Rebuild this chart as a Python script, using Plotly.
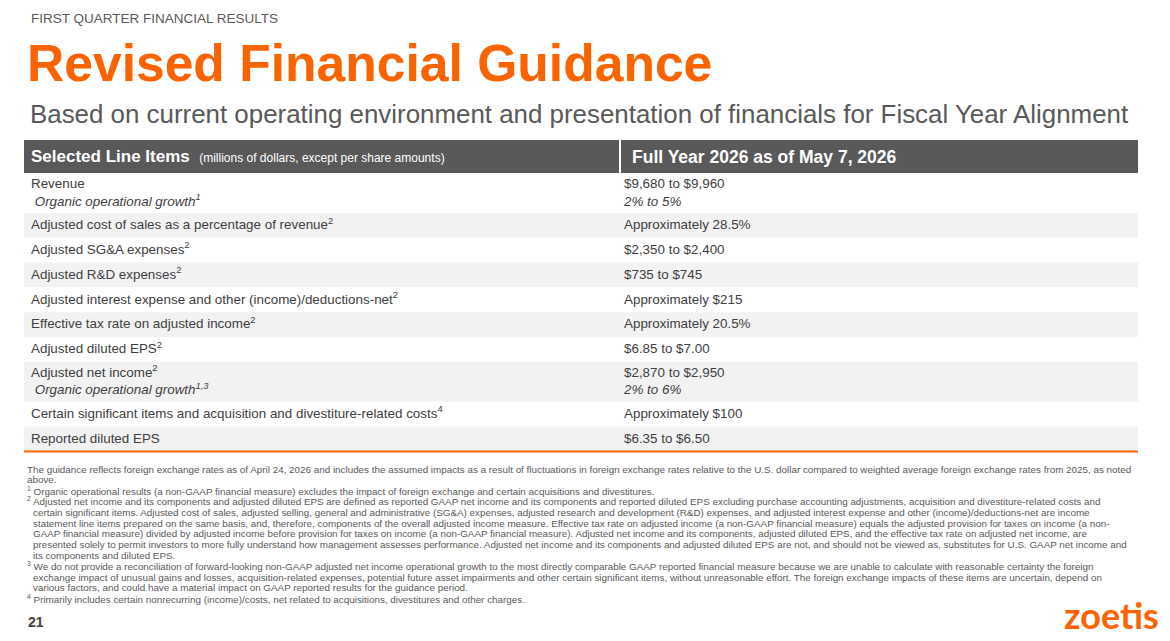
import plotly.graph_objects as go

W, H = 1170, 641
ORANGE = "#FA6400"
DARK = "#404040"
GREY_TXT = "#595959"
BAR = "#595959"
ROW_GREY = "#F2F2F2"
FONT = "Liberation Sans"

kicker = "FIRST QUARTER FINANCIAL RESULTS"
title = "Revised Financial Guidance"
subtitle = "Based on current operating environment and presentation of financials for Fiscal Year Alignment"

header_left = "Selected Line Items"
header_left_note = "(millions of dollars, except per share amounts)"
header_right = "Full Year 2026 as of May 7, 2026"

line_items = [
    "Revenue",
    "Adjusted cost of sales as a percentage of revenue",
    "Adjusted SG&A expenses",
    "Adjusted R&D expenses",
    "Adjusted interest expense and other (income)/deductions-net",
    "Effective tax rate on adjusted income",
    "Adjusted diluted EPS",
    "Adjusted net income",
    "Certain significant items and acquisition and divestiture-related costs",
    "Reported diluted EPS",
]
item_notes = ["", "2", "2", "2", "2", "2", "2", "2", "4", ""]
sub_items = ["Organic operational growth", "", "", "", "", "", "", "Organic operational growth", "", ""]
sub_notes = ["1", "", "", "", "", "", "", "1,3", "", ""]
guidance = [
    "$9,680 to $9,960",
    "Approximately 28.5%",
    "$2,350 to $2,400",
    "$735 to $745",
    "Approximately $215",
    "Approximately 20.5%",
    "$6.85 to $7.00",
    "$2,870 to $2,950",
    "Approximately $100",
    "$6.35 to $6.50",
]
sub_guidance = ["2% to 5%", "", "", "", "", "", "", "2% to 6%", "", ""]

footnote_lines = [
    ("", "The guidance reflects foreign exchange rates as of April 24, 2026 and includes the assumed impacts as a result of fluctuations in foreign exchange rates relative to the U.S. dollar compared to weighted average foreign exchange rates from 2025, as noted", False),
    ("", "above.", False),
    ("1", "Organic operational results (a non-GAAP financial measure) excludes the impact of foreign exchange and certain acquisitions and divestitures.", False),
    ("2", "Adjusted net income and its components and adjusted diluted EPS are defined as reported GAAP net income and its components and reported diluted EPS excluding purchase accounting adjustments, acquisition and divestiture-related costs and", False),
    ("", "certain significant items. Adjusted cost of sales, adjusted selling, general and administrative (SG&A) expenses, adjusted research and development (R&D) expenses, and adjusted interest expense and other (income)/deductions-net are income", True),
    ("", "statement line items prepared on the same basis, and, therefore, components of the overall adjusted income measure. Effective tax rate on adjusted income (a non-GAAP financial measure) equals the adjusted provision for taxes on income (a non-", True),
    ("", "GAAP financial measure) divided by adjusted income before provision for taxes on income (a non-GAAP financial measure). Adjusted net income and its components, adjusted diluted EPS, and the effective tax rate on adjusted net income, are", True),
    ("", "presented solely to permit investors to more fully understand how management assesses performance. Adjusted net income and its components and adjusted diluted EPS are not, and should not be viewed as, substitutes for U.S. GAAP net income and", True),
    ("", "its components and diluted EPS.", True),
    ("3", "We do not provide a reconciliation of forward-looking non-GAAP adjusted net income operational growth to the most directly comparable GAAP reported financial measure because we are unable to calculate with reasonable certainty the foreign", False),
    ("", "exchange impact of unusual gains and losses, acquisition-related expenses, potential future asset impairments and other certain significant items, without unreasonable effort. The foreign exchange impacts of these items are uncertain, depend on", True),
    ("", "various factors, and could have a material impact on GAAP reported results for the guidance period.", True),
    ("4", "Primarily includes certain nonrecurring (income)/costs, net related to acquisitions, divestitures and other charges.", False),
]

page_number = "21"
logo_text = "zoetis"

# ---- layout geometry (pixels; axes are set up 1:1 with the page) ----
TX0, TX1, COL_SPLIT = 24, 1138, 620
HEAD_TOP, HEAD_H = 140, 33
ROW_H1, ROW_H2 = 24.8, 40

left_cells, right_cells, fills, heights = [], [], [], []
for i, (it, n, sub, sn, g, sg) in enumerate(zip(line_items, item_notes, sub_items, sub_notes, guidance, sub_guidance)):
    s = it + (f"<sup>{n}</sup>" if n else "")
    r = g
    if sub:
        s += "<br>\u00a0<i>" + sub + (f"<sup>{sn}</sup>" if sn else "") + "</i>"
    if sg:
        r += "<br><i>" + sg + "</i>"
    left_cells.append(s)
    right_cells.append(r)
    fills.append("white" if i % 2 == 0 else ROW_GREY)
    heights.append(ROW_H2 if (sub or sg) else ROW_H1)

centers = []
top = HEAD_TOP + HEAD_H
for h in heights:
    centers.append(top + h / 2)
    top += h
table_bottom = top

fig = go.Figure()
# header bar
fig.add_trace(go.Bar(orientation="h", y=[HEAD_TOP + HEAD_H / 2], x=[TX1 - TX0], base=[TX0],
                     width=[HEAD_H], marker=dict(color=BAR, line=dict(width=0)),
                     hoverinfo="skip", showlegend=False))
# row backgrounds
fig.add_trace(go.Bar(orientation="h", y=centers, x=[TX1 - TX0] * len(centers), base=[TX0] * len(centers),
                     width=heights, marker=dict(color=fills, line=dict(width=0)),
                     hoverinfo="skip", showlegend=False))
# cell texts
fig.add_trace(go.Scatter(x=[TX0 + 7] * len(centers), y=[c + 0.5 for c in centers], mode="text", text=left_cells,
                         textposition="middle right",
                         textfont=dict(size=13.4, color=DARK, family=FONT),
                         hoverinfo="skip", showlegend=False))
fig.add_trace(go.Scatter(x=[COL_SPLIT + 4] * len(centers), y=[c + 0.5 for c in centers], mode="text", text=right_cells,
                         textposition="middle right",
                         textfont=dict(size=13.4, color=DARK, family=FONT),
                         hoverinfo="skip", showlegend=False))

ann = []
def add(text, x, y, size, color, bold=False, xanchor="left", family=FONT, ref="paper"):
    if ref == "paper":
        xx, yy, xr, yr = x / W, 1 - y / H, "paper", "paper"
    else:
        xx, yy, xr, yr = x, y, "x", "y"
    ann.append(dict(text=(f"<b>{text}</b>" if bold else text), x=xx, y=yy,
                    xref=xr, yref=yr, xanchor=xanchor, yanchor="middle",
                    showarrow=False, font=dict(size=size, color=color, family=family)))

add(kicker, 29, 18, 13.5, GREY_TXT)
add(title, 25, 63, 51.6, ORANGE, bold=True)
add(subtitle, 28, 114, 25.9, GREY_TXT)

add(f"<b>{header_left}</b>  <span style='font-size:12px'>{header_left_note}</span>",
    TX0 + 5, HEAD_TOP + HEAD_H / 2, 17, "white", ref="data")
add(header_right, COL_SPLIT + 10, HEAD_TOP + HEAD_H / 2, 17.5, "white", bold=True, ref="data")

y0 = 469
for i, (num, txt, indent) in enumerate(footnote_lines):
    t = (f"<sup>{num}</sup> " if num else "") + txt
    add(t, 31 if indent else 25, y0 + i * 10.8, 9.85, GREY_TXT)

add(page_number, 26, 622, 14, DARK, bold=True)
add(logo_text, 1161, 615, 36, ORANGE, bold=True, xanchor="right", family="Lato")

shapes = [
    dict(type="line", xref="x", yref="y", x0=COL_SPLIT, x1=COL_SPLIT,
         y0=HEAD_TOP, y1=HEAD_TOP + HEAD_H, line=dict(color="white", width=2)),
    dict(type="line", xref="x", yref="y", x0=TX0, x1=TX1, y0=table_bottom, y1=table_bottom,
         line=dict(color=ORANGE, width=2)),
]

fig.update_layout(
    width=W, height=H,
    margin=dict(l=0, r=0, t=0, b=0),
    paper_bgcolor="white", plot_bgcolor="white",
    barmode="overlay",
    xaxis=dict(range=[0, W], domain=[0, 1], visible=False, fixedrange=True),
    yaxis=dict(range=[H, 0], domain=[0, 1], visible=False, fixedrange=True),
    annotations=ann,
    shapes=shapes,
)

fig.write_html("out.html", config={"displayModeBar": False},
               post_script="document.body.style.margin='0px';")
